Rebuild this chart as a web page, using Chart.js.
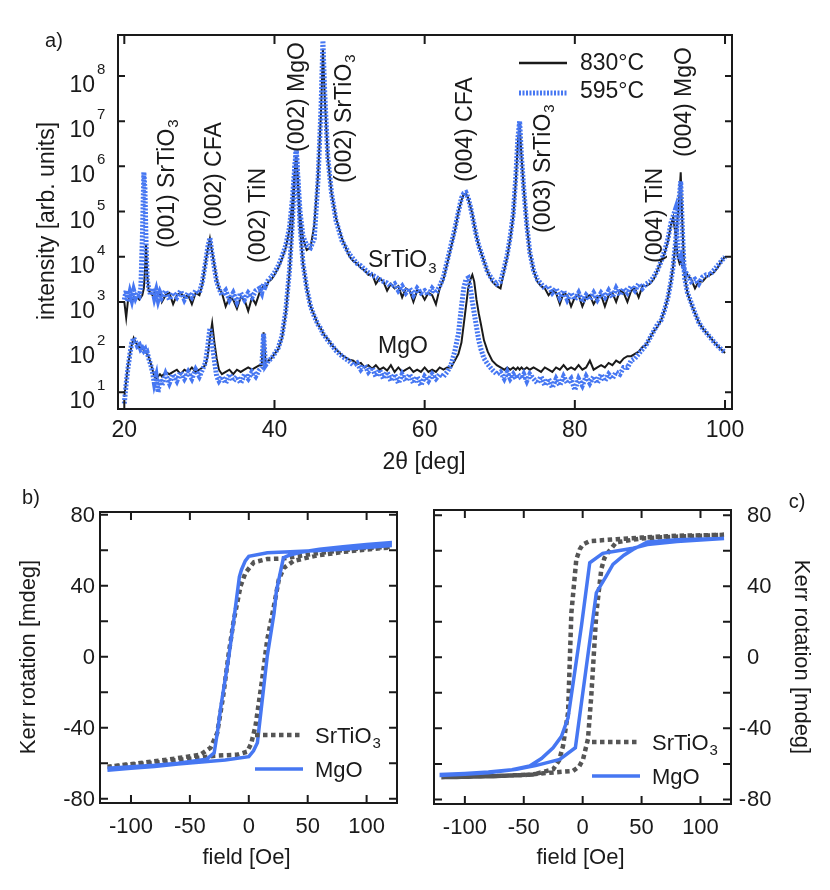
<!DOCTYPE html>
<html>
<head>
<meta charset="utf-8">
<script src="https://cdn.jsdelivr.net/npm/chart.js@4.4.1/dist/chart.umd.min.js"></script>
<style>
  html, body { margin: 0; padding: 0; background: #fff; }
  #wrap { position: relative; width: 830px; height: 890px; }
  #wrap canvas { position: absolute; left: 0; top: 0; }
</style>
</head>
<body>
<div id="wrap">
  <canvas id="xrd" width="830" height="890"></canvas>
  <canvas id="kerrB" width="830" height="890"></canvas>
  <canvas id="kerrC" width="830" height="890"></canvas>
</div>
<script>
// ---- a) XRD scans, values are log10(intensity) ----
var twoTheta = [
  20.0, 20.25, 20.5, 20.75, 21.0, 21.25, 21.5, 21.75, 22.0, 22.2,
  22.4, 22.6, 22.75, 22.9, 23.05, 23.25, 23.5, 23.75, 24.0, 24.25,
  24.5, 24.75, 25.0, 25.5, 26.0, 26.5, 27.0, 27.5, 28.0, 28.5,
  29.0, 29.5, 30.0, 30.4, 30.8, 31.1, 31.4, 31.7, 32.0, 32.3,
  32.6, 33.0, 33.5, 34.0, 34.5, 35.0, 35.5, 36.0, 36.5, 37.0,
  37.5, 38.0, 38.3, 38.55, 38.8, 39.2, 39.6, 40.0, 40.5, 41.0,
  41.5, 42.0, 42.4, 42.7, 42.9, 43.1, 43.4, 43.8, 44.3, 44.8,
  45.3, 45.8, 46.2, 46.45, 46.7, 47.1, 47.6, 48.2, 49.0, 50.0,
  50.5, 51.0, 51.5, 52.0, 52.5, 53.0, 53.5, 54.0, 54.5, 55.0,
  55.5, 56.0, 56.5, 57.0, 57.5, 58.0, 58.5, 59.0, 59.5, 60.0,
  60.5, 61.0, 61.5, 62.0, 62.5, 63.0, 63.5, 64.0, 64.5, 64.9,
  65.2, 65.5, 65.8, 66.1, 66.35, 66.6, 66.9, 67.2, 67.5, 67.9,
  68.4, 69.0, 69.6, 70.1, 70.6, 71.0, 71.4, 71.8, 72.15, 72.4,
  72.65, 72.9, 73.2, 73.6, 74.0, 74.5, 75.0, 75.5, 76.0, 76.5,
  77.0, 77.5, 78.0, 78.5, 79.0, 79.5, 80.0, 80.5, 81.0, 81.5,
  82.0, 82.5, 83.0, 83.5, 84.0, 84.5, 85.0, 85.5, 86.0, 86.5,
  87.0, 87.5, 88.0, 88.5, 89.0, 89.5, 90.0, 90.5, 91.0, 91.5,
  92.0, 92.4, 92.8, 93.1, 93.4, 93.7, 93.95, 94.1, 94.3, 94.6,
  95.0, 95.5, 96.0, 96.5, 97.0, 97.5, 98.0, 98.5, 99.0, 99.5,
  100.0
];

// film on SrTiO3, grown at 595 C (blue)
var sto595 = [
  3.05, 3.25, 3.0, 3.2, 3.05, 3.25, 3.1, 3.2, 3.15, 3.3,
  4.4, 5.87, 5.5, 4.3, 3.5, 3.3, 3.15, 3.3, 3.1, 3.25,
  3.05, 3.2, 3.1, 3.25, 3.05, 3.2, 3.1, 3.25, 3.05, 3.2,
  3.1, 3.25, 3.2, 3.45, 3.85, 4.2, 4.42, 4.05, 3.75, 3.45,
  3.3, 3.15, 3.25, 3.05, 3.2, 3.0, 3.2, 3.05, 3.2, 3.1,
  3.25, 3.3, 3.2, 3.4, 3.35, 3.5, 3.55, 3.65, 3.8, 4.0,
  4.25, 4.65, 5.3, 6.0, 6.38, 5.8, 5.0, 4.45, 4.25, 4.2,
  4.4, 5.7, 7.3, 8.78, 7.6, 6.2, 5.4, 4.8, 4.35, 4.05,
  3.95, 3.85, 3.8, 3.72, 3.65, 3.6, 3.55, 3.5, 3.45, 3.42,
  3.35, 3.4, 3.25, 3.35, 3.2, 3.3, 3.15, 3.3, 3.2, 3.25,
  3.15, 3.3, 3.2, 3.35, 3.55, 3.9, 4.25, 4.6, 5.0, 5.3,
  5.4, 5.42, 5.3, 5.1, 4.9, 4.7, 4.45, 4.25, 4.1, 3.9,
  3.65, 3.5, 3.4, 3.45, 3.75, 4.05, 4.45, 4.95, 5.8, 6.6,
  7.0, 6.2, 5.5, 4.7, 4.1, 3.7, 3.5, 3.4, 3.3, 3.35,
  3.2, 3.3, 3.1, 3.25, 3.05, 3.2, 3.05, 3.2, 3.0, 3.15,
  3.05, 3.2, 3.05, 3.2, 3.1, 3.25, 3.1, 3.3, 3.15, 3.3,
  3.2, 3.35, 3.25, 3.4, 3.3, 3.4, 3.45, 3.55, 3.7, 3.9,
  4.15, 4.4, 4.75, 4.9, 5.05, 4.2, 3.95, 4.0, 3.85, 3.7,
  3.6, 3.45, 3.5, 3.4, 3.55, 3.6, 3.6, 3.7, 3.8, 3.9,
  4.0
];

// film on SrTiO3, grown at 830 C (black)
var sto830 = [
  3.0, 2.65, 3.05, 3.1, 3.0, 3.1, 3.05, 3.1, 3.05, 3.1,
  3.15, 3.3, 3.7, 4.27, 3.6, 3.25, 3.2, 3.15, 3.2, 3.1,
  3.15, 3.2, 3.0, 3.15, 3.2, 2.95, 3.15, 3.2, 3.1, 3.15,
  2.95, 3.2, 3.15, 3.4, 3.85, 4.15, 4.4, 4.1, 3.8, 3.5,
  3.3, 3.2, 2.9, 3.1, 3.05, 2.85, 3.1, 3.05, 2.8, 3.1,
  2.95, 3.2, 3.3, 3.35, 3.3, 3.45, 3.5, 3.6, 3.75, 3.95,
  4.2, 4.6, 5.25, 5.9, 6.25, 5.75, 4.95, 4.4, 4.15, 4.2,
  4.7, 5.8, 7.2, 8.6, 7.5, 6.2, 5.4, 4.85, 4.4, 4.0,
  3.9, 3.85, 3.75, 3.7, 3.6, 3.62, 3.4, 3.52, 3.45, 3.25,
  3.4, 3.3, 3.35, 3.1, 3.3, 3.25, 3.0, 3.25, 3.2, 3.05,
  3.2, 3.15, 2.95, 3.3, 3.5, 3.85, 4.2, 4.55, 5.0, 5.25,
  5.38, 5.4, 5.3, 5.1, 4.95, 4.7, 4.45, 4.25, 4.1, 3.9,
  3.65, 3.45, 3.35, 3.3, 3.7, 4.0, 4.4, 4.9, 5.7, 6.5,
  6.95, 6.2, 5.5, 4.7, 4.1, 3.7, 3.45, 3.35, 3.3, 3.15,
  3.25, 3.2, 2.95, 3.2, 3.15, 2.9, 3.1, 3.15, 2.9, 3.1,
  3.15, 2.95, 3.1, 3.15, 2.9, 3.15, 3.2, 3.0, 3.25, 3.2,
  3.0, 3.25, 3.3, 3.1, 3.35, 3.35, 3.4, 3.5, 3.7, 3.9,
  4.1, 4.35, 4.7, 4.87, 4.5, 4.0, 3.85, 3.9, 3.8, 3.7,
  3.6, 3.5, 3.3, 3.45, 3.45, 3.55, 3.6, 3.65, 3.75, 3.9,
  4.0
];

// film on MgO, grown at 595 C (blue)
var mgo595 = [
  0.75, 1.2, 1.55, 1.85, 2.1, 2.2, 2.12, 2.02, 2.05, 1.95,
  1.98, 1.92, 1.95, 1.85, 1.88, 1.75, 1.62, 1.45, 1.2, 1.35,
  1.0, 1.3, 1.15, 1.4, 1.2, 1.4, 1.25, 1.45, 1.3, 1.45,
  1.3, 1.5, 1.35, 1.5, 1.65, 2.0, 2.42, 2.1, 1.7, 1.35,
  1.25, 1.35, 1.2, 1.4, 1.25, 1.35, 1.2, 1.4, 1.3, 1.45,
  1.35, 1.5, 1.55, 2.3, 1.6, 1.7, 1.75, 1.85, 1.98, 2.25,
  2.8, 3.7, 4.8, 5.9, 6.38, 5.7, 4.7, 3.85, 3.3, 2.9,
  2.68, 2.5, 2.4, 2.3, 2.25, 2.15, 2.05, 1.92, 1.8, 1.68,
  1.6, 1.65, 1.5, 1.6, 1.45, 1.55, 1.35, 1.5, 1.3, 1.45,
  1.25, 1.4, 1.2, 1.4, 1.25, 1.4, 1.2, 1.35, 1.15, 1.35,
  1.25, 1.4, 1.3, 1.4, 1.35, 1.45, 1.6, 1.9, 2.3, 2.9,
  3.3, 3.5, 3.53, 3.3, 3.0, 2.75, 2.45, 2.15, 1.95, 1.75,
  1.62, 1.5, 1.4, 1.45, 1.3, 1.45, 1.3, 1.4, 1.3, 1.4,
  1.35, 1.3, 1.4, 1.25, 1.4, 1.3, 1.2, 1.35, 1.15, 1.3,
  1.1, 1.3, 1.15, 1.35, 1.2, 1.3, 1.05, 1.3, 1.15, 1.35,
  1.2, 1.35, 1.2, 1.4, 1.25, 1.4, 1.3, 1.45, 1.4, 1.55,
  1.55, 1.7, 1.75, 1.85, 1.95, 2.05, 2.2, 2.35, 2.5, 2.6,
  2.85, 3.1, 3.45, 3.8, 4.3, 4.9, 5.4, 5.67, 4.7, 3.55,
  3.2, 2.98, 2.75, 2.55, 2.42, 2.32, 2.22, 2.12, 2.03, 1.95,
  1.88
];

// film on MgO, grown at 830 C (black)
var mgo830 = [
  0.9, 1.25, 1.6, 1.85, 2.05, 2.2, 2.1, 2.05, 2.0, 1.98,
  1.95, 1.95, 1.9, 1.88, 1.85, 1.78, 1.65, 1.5, 1.35, 1.3,
  1.35, 1.4, 1.35, 1.45, 1.4, 1.45, 1.5, 1.4, 1.5, 1.45,
  1.55, 1.45, 1.5, 1.55, 1.6, 1.8, 2.2, 2.53, 2.1, 1.75,
  1.5, 1.4, 1.45, 1.5, 1.4, 1.5, 1.45, 1.5, 1.55, 1.5,
  1.55, 1.6, 1.6, 2.33, 1.65, 1.7, 1.75, 1.85, 1.95, 2.2,
  2.75, 3.65, 4.75, 5.8, 6.2, 5.65, 4.65, 3.85, 3.3, 2.9,
  2.7, 2.5, 2.4, 2.32, 2.25, 2.18, 2.05, 1.95, 1.82, 1.72,
  1.7, 1.62, 1.65, 1.55, 1.6, 1.52, 1.6, 1.5, 1.55, 1.48,
  1.6, 1.45, 1.55, 1.45, 1.5, 1.55, 1.45, 1.5, 1.45, 1.55,
  1.45, 1.5, 1.45, 1.55, 1.5, 1.55, 1.55, 1.7, 1.85, 2.1,
  2.5, 2.9, 3.3, 3.5, 3.6, 3.45, 3.05, 2.75, 2.5, 2.15,
  1.9, 1.7, 1.6, 1.55, 1.5, 1.55, 1.5, 1.55, 1.5, 1.55,
  1.5, 1.55, 1.5, 1.55, 1.5, 1.55, 1.5, 1.45, 1.55, 1.5,
  1.45, 1.55, 1.5, 1.6, 1.5, 1.55, 1.5, 1.6, 1.5, 1.55,
  1.7, 1.5, 1.55, 1.6, 1.55, 1.65, 1.6, 1.7, 1.65, 1.75,
  1.8, 1.8, 1.85, 1.9, 2.0, 2.05, 2.2, 2.35, 2.45, 2.6,
  2.85, 3.1, 3.45, 3.8, 4.3, 4.9, 5.4, 5.87, 4.8, 3.6,
  3.2, 2.95, 2.75, 2.55, 2.42, 2.32, 2.22, 2.12, 2.03, 1.95,
  1.87
];

var xrdTicks = [20, 40, 60, 80, 100];
var xrdDecades = [1, 2, 3, 4, 5, 6, 7, 8];

// ---- b) / c) Kerr loops: field [Oe], rotation [mdeg] ----
var bMgoField = [-120, -100, -80, -60, -40, -20, 0, 4, 7.3, 15.6, 21.5, 23.4, 29.4, 35, 44, 60, 80, 100, 120,
                 120, 100, 80, 60, 40, 15.8, 0, -3, -6.2, -8, -12.7, -17, -23.7, -26.5, -29.4, -36, -60, -80, -100, -120];
var bMgoKerr  = [-64, -62.8, -61.8, -60.5, -59.3, -58.2, -56.3, -53, -48.5, 0, 24.8, 36.8, 55.7, 57.3, 58.8, 60.5, 62, 63.2, 64.2,
                 62.5, 61.5, 60.5, 59.8, 59.2, 58.5, 56.5, 54, 49, 45, 20.8, 0, -28, -42, -54.2, -57.8, -60, -61.2, -62, -62.8];
var bStoField = [-120, -100, -80, -60, -40, -29, -10, -1.4, 2, 5.7, 11.3, 15.6, 21.3, 25.5, 29.7, 38.2, 58, 80, 100.5, 120,
                 120, 100, 80, 58, 40, 29, 15.6, 4.3, -2.8, -7, -12.7, -17, -21.8, -26.8, -32.5, -41, -69, -97, -120];
var bStoKerr  = [-62, -60.8, -59.8, -58.2, -56.8, -55.8, -55.2, -53.5, -49, -39, -13, 9.4, 28.4, 43.5, 50, 54, 57, 59, 60.4, 61.5,
                 62, 61.2, 60, 58.2, 56.5, 55.3, 55, 53.2, 47.3, 39.7, 20.8, 2, -22.4, -43, -51.3, -55.2, -58, -60.3, -62];

var cMgoField = [120, 80, 55, 42.7, 30, 17, 6, -1, -12.4, -18, -25.1, -35, -45, -60, -80, -100, -120,
                 -120, -100, -80, -56, -40, -19.5, -6.2, 11.6, 20, 25.7, 35, 42.7, 55, 80, 120];
var cMgoKerr  = [67, 65.2, 63.5, 61.5, 60, 58.6, 53.3, 18, -34, -44.5, -50.9, -57, -61.2, -63.3, -64.6, -65.4, -66,
                 -66.5, -65.8, -65, -63, -61, -57.5, -50.9, 36.4, 45.8, 52.4, 57.5, 60.8, 65, 66.3, 67];
var cStoField = [120, 80, 50, 28.5, 6, 0, -2.5, -5.4, -9.6, -12.4, -16.7, -20, -25, -42, -80, -120,
                 -120, -80, -50, -28, -8.2, -3, 0.3, 4.5, 7.3, 11.6, 15.8, 18.5, 21.5, 28.5, 50, 80, 120];
var cStoKerr  = [69, 68.5, 67.5, 66.5, 65.5, 63.5, 60.8, 55.2, 25, -31, -50, -58, -63, -66, -67, -67.5,
                 -67.5, -67, -66.3, -65, -64, -61.5, -57.5, -46, -21.8, 25, 49.6, 56, 59, 64.8, 67, 68, 69];

var fieldTicks = [-100, -50, 0, 50, 100];
var kerrTicks = [-80, -40, 0, 40, 80];
var kerrMinor = [-80, -60, -40, -20, 0, 20, 40, 60, 80];

// ---- look ----
var FONT = '"Liberation Sans", Arial, Helvetica, sans-serif';
var INK = '#1a1a1a';
var BLUE = '#4677f2';
var GREY = '#555555';

function setFont(ctx, size) { ctx.font = size + 'px ' + FONT; }

// text with an optional subscript, drawn from (x, y) with the given alignment
function subText(ctx, main, sub, x, y, size, align) {
  setFont(ctx, size);
  var w1 = ctx.measureText(main).width;
  var sSize = Math.round(size * 0.66);
  setFont(ctx, sSize);
  var w2 = sub ? ctx.measureText(sub).width + 1 : 0;
  var left = x;
  if (align === 'center') left = x - (w1 + w2) / 2;
  else if (align === 'right') left = x - w1 - w2;
  ctx.textAlign = 'left';
  setFont(ctx, size);
  ctx.fillText(main, left, y);
  if (sub) {
    setFont(ctx, sSize);
    ctx.fillText(sub, left + w1 + 1, y + size * 0.24);
  }
}

function turnedText(ctx, main, sub, x, y, size, angle, align) {
  ctx.save();
  ctx.translate(x, y);
  ctx.rotate(angle);
  ctx.textBaseline = 'middle';
  subText(ctx, main, sub, 0, 0, size, align);
  ctx.restore();
}

function legendLine(ctx, x1, x2, y, color, width, dash) {
  ctx.save();
  ctx.strokeStyle = color;
  ctx.lineWidth = width;
  ctx.setLineDash(dash || []);
  ctx.beginPath();
  ctx.moveTo(x1, y);
  ctx.lineTo(x2, y);
  ctx.stroke();
  ctx.restore();
}

var peakNotes = [
  ['(001) SrTiO', '3', 168, 248],
  ['(002) CFA', '', 215, 227],
  ['(002) TiN', '', 259, 263],
  ['(002) MgO', '', 298, 152],
  ['(002) SrTiO', '3', 345, 183],
  ['(004) CFA', '', 466, 182],
  ['(003) SrTiO', '3', 544, 233],
  ['(004) TiN', '', 656, 263],
  ['(004) MgO', '', 685, 157]
];

var xrdDecor = {
  id: 'xrdDecor',
  afterDraw: function (chart) {
    var ctx = chart.ctx, a = chart.chartArea;
    var x = chart.scales.x, y = chart.scales.y;
    ctx.save();
    ctx.strokeStyle = INK;
    ctx.fillStyle = INK;
    ctx.lineWidth = 2;
    ctx.beginPath();
    xrdTicks.forEach(function (v) {
      var px = x.getPixelForValue(v);
      ctx.moveTo(px, a.bottom); ctx.lineTo(px, a.bottom - 9);
      ctx.moveTo(px, a.top); ctx.lineTo(px, a.top + 9);
    });
    xrdDecades.forEach(function (d) {
      var py = y.getPixelForValue(Math.pow(10, d));
      ctx.moveTo(a.left, py); ctx.lineTo(a.left + 7, py);
      ctx.moveTo(a.right, py); ctx.lineTo(a.right - 7, py);
    });
    ctx.stroke();
    ctx.strokeRect(a.left, a.top, a.right - a.left, a.bottom - a.top);

    // tick labels
    setFont(ctx, 23);
    ctx.textAlign = 'center';
    ctx.textBaseline = 'middle';
    xrdTicks.forEach(function (v) {
      ctx.fillText(String(v), x.getPixelForValue(v), a.bottom + 22);
    });
    ctx.textBaseline = 'alphabetic';
    xrdDecades.forEach(function (d) {
      var py = y.getPixelForValue(Math.pow(10, d));
      setFont(ctx, 23);
      ctx.textAlign = 'right';
      ctx.fillText('10', a.left - 23, py + 16);
      setFont(ctx, 15);
      ctx.textAlign = 'left';
      ctx.fillText(String(d), a.left - 21, py - 2);
    });

    // axis titles
    ctx.textBaseline = 'middle';
    turnedText(ctx, 'intensity [arb. units]', '', 48, 221, 23, -Math.PI / 2, 'center');
    setFont(ctx, 23);
    ctx.textAlign = 'center';
    ctx.fillText('2\u03B8 [deg]', 424, 463);
    setFont(ctx, 20);
    ctx.fillText('a)', 54, 41);

    // peak notes
    peakNotes.forEach(function (n) {
      turnedText(ctx, n[0], n[1], n[2], n[3], 23, -Math.PI / 2, 'left');
    });
    ctx.textBaseline = 'alphabetic';
    subText(ctx, 'SrTiO', '3', 368, 267, 23, 'left');
    subText(ctx, 'MgO', '', 378, 353, 23, 'left');

    // legend
    legendLine(ctx, 519, 567, 63, INK, 2.5);
    legendLine(ctx, 519, 567, 93, BLUE, 5, [2, 1.5]);
    ctx.textBaseline = 'middle';
    subText(ctx, '830\u00B0C', '', 580, 64, 23, 'left');
    subText(ctx, '595\u00B0C', '', 580, 92, 23, 'left');
    ctx.restore();
  }
};

function kerrDecor(side, letter) {
  return {
    id: 'kerrDecor',
    afterDraw: function (chart) {
      var ctx = chart.ctx, a = chart.chartArea;
      var x = chart.scales.x, y = chart.scales.y;
      ctx.save();
      ctx.strokeStyle = INK;
      ctx.fillStyle = INK;
      ctx.lineWidth = 2;
      ctx.beginPath();
      fieldTicks.forEach(function (v) {
        var px = x.getPixelForValue(v);
        ctx.moveTo(px, a.bottom); ctx.lineTo(px, a.bottom - 8);
        ctx.moveTo(px, a.top); ctx.lineTo(px, a.top + 8);
      });
      kerrMinor.forEach(function (v) {
        var py = y.getPixelForValue(v);
        ctx.moveTo(a.left, py); ctx.lineTo(a.left + 8, py);
        ctx.moveTo(a.right, py); ctx.lineTo(a.right - 8, py);
      });
      ctx.stroke();
      ctx.strokeRect(a.left, a.top, a.right - a.left, a.bottom - a.top);

      setFont(ctx, 22);
      ctx.textBaseline = 'middle';
      ctx.textAlign = 'center';
      fieldTicks.forEach(function (v) {
        ctx.fillText(String(v), x.getPixelForValue(v), a.bottom + 24);
      });
      kerrTicks.forEach(function (v) {
        var py = y.getPixelForValue(v) + 1;
        if (side === 'left') {
          ctx.textAlign = 'right';
          ctx.fillText(String(v), a.left - 5, py);
        } else {
          ctx.textAlign = 'left';
          ctx.fillText(String(Math.abs(v)), a.right + 16, py);
          if (v < 0) { ctx.textAlign = 'right'; ctx.fillText('-', a.right + 15, py); }
        }
      });
      var cx = (a.left + a.right) / 2;
      ctx.textAlign = 'center';
      ctx.fillText('field [Oe]', cx - 2, 858);
      if (side === 'left') {
        turnedText(ctx, 'Kerr rotation [mdeg]', '', 29, 657, 22, -Math.PI / 2, 'center');
        setFont(ctx, 20);
        ctx.textAlign = 'center';
        ctx.fillText(letter, 31, 498);
      } else {
        turnedText(ctx, 'Kerr rotation [mdeg]', '', 801, 657, 22, Math.PI / 2, 'center');
        setFont(ctx, 20);
        ctx.textAlign = 'center';
        ctx.fillText(letter, 797, 502);
      }

      // legend
      var lx = side === 'left' ? 255 : 592;
      var ly = side === 'left' ? 735 : 742;
      legendLine(ctx, lx, lx + 46, ly, GREY, 4.5, [4.5, 3.5]);
      legendLine(ctx, lx, lx + 48, ly + 34, BLUE, 3.5);
      ctx.textBaseline = 'alphabetic';
      subText(ctx, 'SrTiO', '3', lx + 60, ly + 8, 22, 'left');
      subText(ctx, 'MgO', '', lx + 60, ly + 42, 22, 'left');
      ctx.restore();
    }
  };
}

function pairs(xs, ys) {
  return xs.map(function (v, i) { return { x: v, y: ys[i] }; });
}
function logPairs(xs, ls) {
  return xs.map(function (v, i) { return { x: v, y: Math.pow(10, ls[i]) }; });
}

var quiet = { legend: { display: false }, tooltip: { enabled: false } };

new Chart(document.getElementById('xrd').getContext('2d'), {
  type: 'line',
  data: {
    datasets: [
      { label: '830\u00B0C SrTiO3', data: logPairs(twoTheta, sto830), borderColor: INK, borderWidth: 2, order: 2 },
      { label: '830\u00B0C MgO', data: logPairs(twoTheta, mgo830), borderColor: INK, borderWidth: 2, order: 2 },
      { label: '595\u00B0C SrTiO3', data: logPairs(twoTheta, sto595), borderColor: BLUE, borderWidth: 5, borderDash: [2, 1.5], order: 1 },
      { label: '595\u00B0C MgO', data: logPairs(twoTheta, mgo595), borderColor: BLUE, borderWidth: 5, borderDash: [2, 1.5], order: 1 }
    ]
  },
  options: {
    responsive: false,
    animation: false,
    layout: { padding: { left: 118, top: 35, right: 98, bottom: 481 } },
    elements: { point: { radius: 0 }, line: { tension: 0, fill: false } },
    plugins: quiet,
    scales: {
      x: { type: 'linear', min: 19.16, max: 100.93, display: false },
      y: { type: 'logarithmic', min: 4.27, max: 8.07e8, display: false }
    }
  },
  plugins: [xrdDecor]
});

function kerrChart(id, pad, xr, yr, mgoF, mgoK, stoF, stoK, side, letter) {
  return new Chart(document.getElementById(id).getContext('2d'), {
    type: 'line',
    data: {
      datasets: [
        { label: 'MgO', data: pairs(mgoF, mgoK), borderColor: BLUE, borderWidth: 3.5, order: 1 },
        { label: 'SrTiO3', data: pairs(stoF, stoK), borderColor: GREY, borderWidth: 4.5, borderDash: [4.5, 3.5], order: 2 }
      ]
    },
    options: {
      responsive: false,
      animation: false,
      layout: { padding: pad },
      elements: { point: { radius: 0 }, line: { tension: 0, fill: false } },
      plugins: quiet,
      scales: {
        x: { type: 'linear', min: xr[0], max: xr[1], display: false },
        y: { type: 'linear', min: yr[0], max: yr[1], display: false }
      }
    },
    plugins: [kerrDecor(side, letter)]
  });
}

kerrChart('kerrB', { left: 100, top: 512, right: 433, bottom: 87 }, [-126.3, 125.8], [-82.4, 81.5],
  bMgoField, bMgoKerr, bStoField, bStoKerr, 'left', 'b)');
kerrChart('kerrC', { left: 434, top: 510, right: 99, bottom: 86 }, [-126.2, 125.9], [-82.6, 83.0],
  cMgoField, cMgoKerr, cStoField, cStoKerr, 'right', 'c)');
</script>
</body>
</html>
